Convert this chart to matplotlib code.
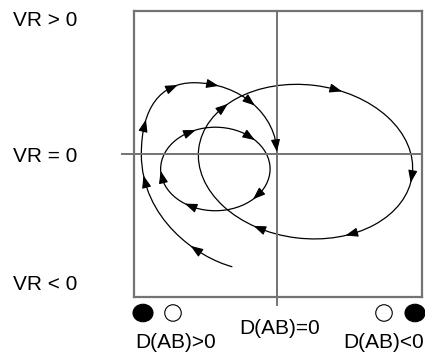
import numpy as np
import matplotlib
matplotlib.use("Agg")
import matplotlib.pyplot as plt
from matplotlib.patches import Ellipse, PathPatch
from matplotlib.path import Path

plt.rcParams["font.family"] = ["Liberation Sans", "DejaVu Sans"]

# ---- data ---------------------------------------------------------------
vr_labels = ["VR > 0", "VR = 0", "VR < 0"]
dab_labels = ["D(AB)>0", "D(AB)=0", "D(AB)<0"]
# symbols under the x axis, left to right
marker_filled = [True, False, False, True]

# trajectory spiralling into the origin:
# start point, then (control, control, end) triples of cubic Beziers
spiral_nodes = [(-0.31, -0.783),
                (-0.55, -0.72), (-0.942, -0.45), (-0.942, 0.0),
                (-0.942, 0.32), (-0.81, 0.495), (-0.576, 0.495),
                (-0.258, 0.495), (0.0, 0.273), (0.0, 0.0)]
spiral_arrow_pos = [0.11, 0.34, 0.49, 0.62, 0.73, 0.84, 0.98]

# closed cycles: centre, full width, full height, tilt in degrees
big_cycle = [(0.198, -0.053), 1.494, 1.066, -7]
small_cycle = [(-0.428, -0.104), 0.76, 0.58, 0]
big_arrow_deg = [145, 78, -2, -60, -111]
small_arrow_deg = [117, 50, -40, -118, 190]

W, H = 425, 352
GRAY = "#737373"
HEAD = 0.075  # arrow head length in data units


def add_head(ax, tail, tip):
    ax.annotate("", xy=tip, xytext=tail,
                arrowprops=dict(arrowstyle="-|>,head_length=0.75,head_width=0.28",
                                color="black", lw=0.8, shrinkA=0, shrinkB=0))


def ellipse_xy(cyc, t):
    (cx, cy), w, h, ang = cyc
    t, a = np.radians(t), np.radians(ang)
    x, y = w / 2 * np.cos(t), h / 2 * np.sin(t)
    return (cx + x * np.cos(a) - y * np.sin(a), cy + x * np.sin(a) + y * np.cos(a))


def cycle_arrows(ax, cyc, degs):
    # cycles run clockwise
    _, w, h, _ = cyc
    for t in degs:
        tr = np.radians(t)
        speed = np.hypot(w / 2 * np.sin(tr), h / 2 * np.cos(tr))
        d = np.degrees(HEAD / 2 / speed)
        add_head(ax, ellipse_xy(cyc, t + d), ellipse_xy(cyc, t - d))


fig = plt.figure(figsize=(W / 100, H / 100), dpi=100)
ax = fig.add_axes([134 / W, 1 - 297 / H, 288 / W, 286 / H])
ax.set_xlim(-0.993, 1.007)
ax.set_ylim(-0.993, 0.993)
ax.set_xticks([])
ax.set_yticks([])
for s in ax.spines.values():
    s.set_color(GRAY)
    s.set_linewidth(1.6)

ax.axhline(0, xmin=-0.042, xmax=1, color=GRAY, lw=1.4, clip_on=False)
ax.axvline(0, ymin=-0.028, ymax=1, color=GRAY, lw=1.4, clip_on=False)

# spiral
codes = [Path.MOVETO] + [Path.CURVE4] * (len(spiral_nodes) - 1)
spiral = Path(spiral_nodes, codes)
ax.add_patch(PathPatch(spiral, fill=False, edgecolor="black", lw=0.9))
pts = np.vstack([seg(np.linspace(0, 1, 200)) for seg, code in spiral.iter_bezier()
                 if code != Path.MOVETO])
s = np.concatenate([[0], np.cumsum(np.hypot(*np.diff(pts, axis=0).T))])
for f in spiral_arrow_pos:
    s0 = max(f * s[-1] - HEAD / 2, 0)
    s1 = min(f * s[-1] + HEAD / 2, s[-1])
    add_head(ax, (np.interp(s0, s, pts[:, 0]), np.interp(s0, s, pts[:, 1])),
             (np.interp(s1, s, pts[:, 0]), np.interp(s1, s, pts[:, 1])))

# cycles
for cyc, degs in [(big_cycle, big_arrow_deg), (small_cycle, small_arrow_deg)]:
    (cx, cy), w, h, ang = cyc
    ax.add_patch(Ellipse((cx, cy), w, h, angle=ang, fill=False,
                         edgecolor="black", lw=0.9))
    cycle_arrows(ax, cyc, degs)

# labels and symbols in figure pixels
lab = fig.add_axes([0, 0, 1, 1], zorder=-1)
lab.set_xlim(0, W)
lab.set_ylim(H, 0)
lab.axis("off")

for txt, y in zip(vr_labels, [21, 156, 285]):
    lab.text(13, y, txt, fontsize=15, ha="left", va="center")
for txt, x, y in zip(dab_labels, [176, 280, 384], [343, 328, 343]):
    lab.text(x, y, txt, fontsize=15, ha="center", va="center")
for filled, x in zip(marker_filled, [143, 173, 384, 415]):
    if filled:
        lab.add_patch(Ellipse((x, 313), 20, 17.5, facecolor="black", edgecolor="black", lw=0.8))
    else:
        lab.add_patch(Ellipse((x, 313), 16.5, 16.5, facecolor="white", edgecolor="black", lw=0.8))

fig.savefig("out.png", dpi=100)
